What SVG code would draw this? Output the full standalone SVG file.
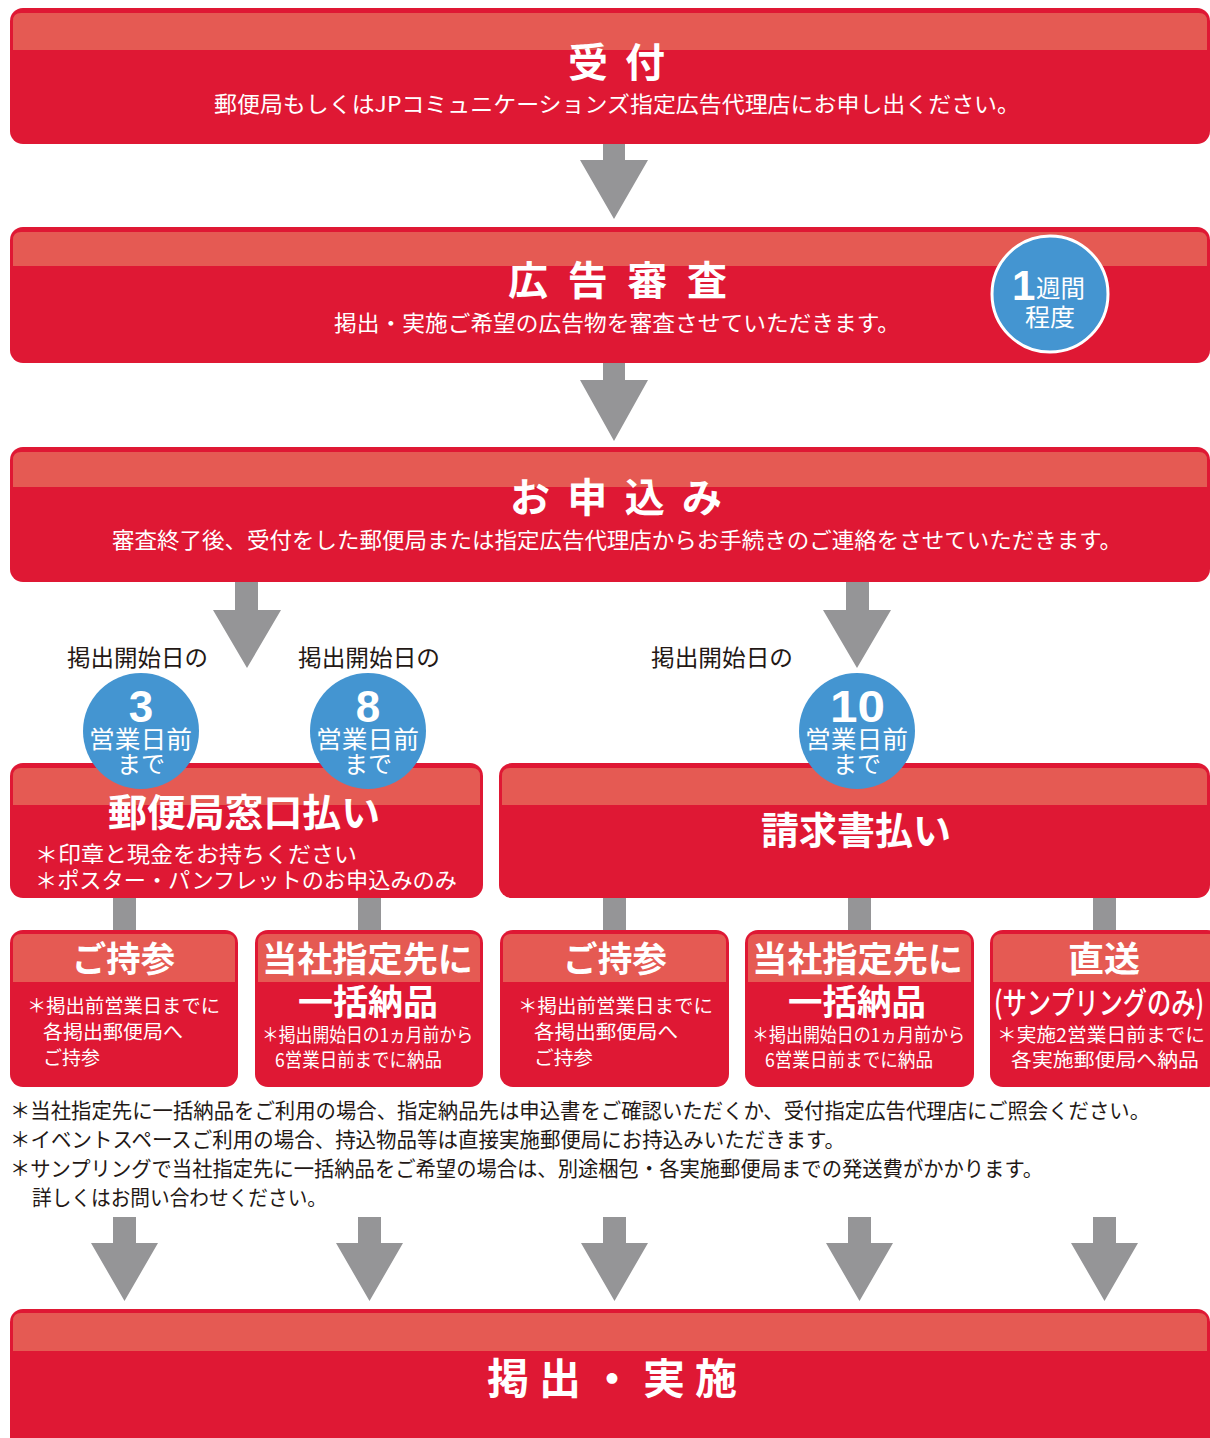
<svg xmlns="http://www.w3.org/2000/svg" width="1210" height="1438" viewBox="0 0 1210 1438">
<style>
text{font-family:"Noto Sans CJK JP","Noto Sans",sans-serif;}
.box{fill:#DF1834;}
.band{fill:#E55A53;}
.arr{fill:#959597;}
.circ{fill:#4495D1;}
.ttl{font-weight:700;font-size:40px;fill:#fff;}
.sub{font-size:22px;fill:#fff;}
.hd{font-weight:700;font-size:35px;fill:#fff;}
.nt{font-size:19px;fill:#fff;}
.lbl{font-size:23px;fill:#231815;}
.num{font-family:"Liberation Sans",Arial,sans-serif;font-weight:700;font-size:44px;fill:#fff;}
.cs{font-size:24px;fill:#fff;}
.fn{font-size:21px;fill:#231815;}
</style>
<rect width="1210" height="1438" fill="#FFFFFF"/>

<g id="connectors">
  <path class="arr" d="M603,143 H625 V160 H648 L614,219 L580,160 H603 Z"/>
  <path class="arr" d="M603,362 H625 V380 H648 L614,441 L580,380 H603 Z"/>
  <path class="arr" d="M235,581 H258 V610 H281 L247,668 L213,610 H235 Z"/>
  <path class="arr" d="M846,581 H869 V610 H891 L857,668 L823,610 H846 Z"/>
  <rect class="arr" x="113" y="897" width="23" height="34"/>
  <rect class="arr" x="358" y="897" width="23" height="34"/>
  <rect class="arr" x="603" y="897" width="23" height="34"/>
  <rect class="arr" x="848" y="897" width="23" height="34"/>
  <rect class="arr" x="1093" y="897" width="23" height="34"/>
  <path class="arr" d="M113,1217 H136 V1243 H158 L124.5,1301 L91,1243 H113 Z"/>
  <path class="arr" d="M358,1217 H381 V1243 H403 L369.5,1301 L336,1243 H358 Z"/>
  <path class="arr" d="M603,1217 H626 V1243 H648 L614.5,1301 L581,1243 H603 Z"/>
  <path class="arr" d="M848,1217 H871 V1243 H893 L859.5,1301 L826,1243 H848 Z"/>
  <path class="arr" d="M1093,1217 H1116 V1243 H1138 L1104.5,1301 L1071,1243 H1093 Z"/>
</g>

<g id="node-uketsuke">
  <rect class="box" x="10" y="8" width="1200" height="136" rx="13"/>
  <path class="band" d="M13,21 Q13,13 21,13 H1199 Q1207,13 1207,21 V50 H13 Z"/>
  <text class="ttl" x="568" y="77" textLength="97" lengthAdjust="spacing">受付</text>
  <text class="sub" x="214" y="112" textLength="806" lengthAdjust="spacingAndGlyphs">郵便局もしくはJPコミュニケーションズ指定広告代理店にお申し出ください。</text>
</g>

<g id="node-shinsa">
  <rect class="box" x="10" y="227" width="1200" height="136" rx="13"/>
  <path class="band" d="M13,240 Q13,232 21,232 H1199 Q1207,232 1207,240 V266 H13 Z"/>
  <text class="ttl" x="508" y="295" textLength="219" lengthAdjust="spacing">広告審査</text>
  <text class="sub" x="334" y="331" textLength="566" lengthAdjust="spacingAndGlyphs">掲出・実施ご希望の広告物を審査させていただきます。</text>
  <g id="badge-1week">
    <circle class="circ" cx="1050" cy="294" r="58" stroke="#FFFFFF" stroke-width="3"/>
    <text class="num" x="1012" y="300" style="font-size:42px;">1</text>
    <text class="cs" x="1036" y="297" textLength="49" lengthAdjust="spacingAndGlyphs">週間</text>
    <text class="cs" x="1025" y="326" textLength="50" lengthAdjust="spacingAndGlyphs">程度</text>
  </g>
</g>

<g id="node-moushikomi">
  <rect class="box" x="10" y="447" width="1200" height="135" rx="13"/>
  <path class="band" d="M13,460 Q13,452 21,452 H1199 Q1207,452 1207,460 V487 H13 Z"/>
  <text class="ttl" x="510" y="512" textLength="212" lengthAdjust="spacing">お申込み</text>
  <text class="sub" x="112" y="548" textLength="1010" lengthAdjust="spacingAndGlyphs">審査終了後、受付をした郵便局または指定広告代理店からお手続きのご連絡をさせていただきます。</text>
</g>

<g id="node-madoguchi">
  <rect class="box" x="10" y="763" width="473" height="135" rx="13"/>
  <path class="band" d="M13,776 Q13,768 21,768 H472 Q480,768 480,776 V805 H13 Z"/>
  <text x="108" y="826" textLength="272" lengthAdjust="spacingAndGlyphs" style="font-weight:700;font-size:38px;fill:#fff;">郵便局窓口払い</text>
  <text x="35" y="862" textLength="322" lengthAdjust="spacingAndGlyphs" style="font-size:22px;fill:#fff;">＊印章と現金をお持ちください</text>
  <text x="35" y="888" textLength="422" lengthAdjust="spacingAndGlyphs" style="font-size:22px;fill:#fff;">＊ポスター・パンフレットのお申込みのみ</text>
</g>

<g id="node-seikyusho">
  <rect class="box" x="499" y="763" width="711" height="135" rx="13"/>
  <path class="band" d="M502,776 Q502,768 510,768 H1199 Q1207,768 1207,776 V805 H502 Z"/>
  <text x="761" y="844" textLength="190" lengthAdjust="spacingAndGlyphs" style="font-weight:700;font-size:38px;fill:#fff;">請求書払い</text>
</g>

<g id="badge-3">
  <text class="lbl" x="67" y="666" textLength="141" lengthAdjust="spacingAndGlyphs">掲出開始日の</text>
  <circle class="circ" cx="141" cy="731" r="58"/>
  <text class="num" x="141" y="722" text-anchor="middle">3</text>
  <text class="cs" x="89" y="748" textLength="103" lengthAdjust="spacingAndGlyphs">営業日前</text>
  <text class="cs" x="141" y="773" text-anchor="middle">まで</text>
</g>
<g id="badge-8">
  <text class="lbl" x="298" y="666" textLength="142" lengthAdjust="spacingAndGlyphs">掲出開始日の</text>
  <circle class="circ" cx="368" cy="731" r="58"/>
  <text class="num" x="368" y="722" text-anchor="middle">8</text>
  <text class="cs" x="316" y="748" textLength="103" lengthAdjust="spacingAndGlyphs">営業日前</text>
  <text class="cs" x="368" y="773" text-anchor="middle">まで</text>
</g>
<g id="badge-10">
  <text class="lbl" x="651" y="666" textLength="142" lengthAdjust="spacingAndGlyphs">掲出開始日の</text>
  <circle class="circ" cx="857" cy="731" r="58"/>
  <text class="num" x="830" y="722" textLength="55" lengthAdjust="spacingAndGlyphs">10</text>
  <text class="cs" x="805" y="748" textLength="103" lengthAdjust="spacingAndGlyphs">営業日前</text>
  <text class="cs" x="857" y="773" text-anchor="middle">まで</text>
</g>

<g id="node-jisan-1">
  <rect class="box" x="10" y="930" width="228" height="157" rx="13"/>
  <path class="band" d="M13,942 Q13,934 21,934 H227 Q235,934 235,942 V982 H13 Z"/>
  <text class="hd" x="72" y="972" textLength="103" lengthAdjust="spacingAndGlyphs">ご持参</text>
  <text class="nt" x="27" y="1013" textLength="193" lengthAdjust="spacingAndGlyphs">＊掲出前営業日までに</text>
  <text class="nt" x="43" y="1039" textLength="140" lengthAdjust="spacingAndGlyphs">各掲出郵便局へ</text>
  <text class="nt" x="43" y="1065" textLength="57" lengthAdjust="spacingAndGlyphs">ご持参</text>
</g>

<g id="node-ikkatsu-1">
  <rect class="box" x="255" y="930" width="228" height="157" rx="13"/>
  <path class="band" d="M258,942 Q258,934 266,934 H472 Q480,934 480,942 V982 H258 Z"/>
  <text class="hd" x="262" y="972" textLength="211" lengthAdjust="spacingAndGlyphs">当社指定先に</text>
  <text class="hd" x="298" y="1015" textLength="140" lengthAdjust="spacingAndGlyphs">一括納品</text>
  <text class="nt" x="262" y="1042" textLength="211" lengthAdjust="spacingAndGlyphs">＊掲出開始日の1ヵ月前から</text>
  <text class="nt" x="275" y="1067" textLength="167" lengthAdjust="spacingAndGlyphs">6営業日前までに納品</text>
</g>

<g id="node-jisan-2">
  <rect class="box" x="500" y="930" width="229" height="157" rx="13"/>
  <path class="band" d="M503,942 Q503,934 511,934 H718 Q726,934 726,942 V982 H503 Z"/>
  <text class="hd" x="563" y="972" textLength="104" lengthAdjust="spacingAndGlyphs">ご持参</text>
  <text class="nt" x="518" y="1013" textLength="195" lengthAdjust="spacingAndGlyphs">＊掲出前営業日までに</text>
  <text class="nt" x="534" y="1039" textLength="144" lengthAdjust="spacingAndGlyphs">各掲出郵便局へ</text>
  <text class="nt" x="534" y="1065" textLength="59" lengthAdjust="spacingAndGlyphs">ご持参</text>
</g>

<g id="node-ikkatsu-2">
  <rect class="box" x="745" y="930" width="229" height="157" rx="13"/>
  <path class="band" d="M748,942 Q748,934 756,934 H963 Q971,934 971,942 V982 H748 Z"/>
  <text class="hd" x="752" y="972" textLength="211" lengthAdjust="spacingAndGlyphs">当社指定先に</text>
  <text class="hd" x="788" y="1015" textLength="138" lengthAdjust="spacingAndGlyphs">一括納品</text>
  <text class="nt" x="752" y="1042" textLength="213" lengthAdjust="spacingAndGlyphs">＊掲出開始日の1ヵ月前から</text>
  <text class="nt" x="765" y="1067" textLength="168" lengthAdjust="spacingAndGlyphs">6営業日前までに納品</text>
</g>

<g id="node-chokuso">
  <rect class="box" x="990" y="930" width="230" height="157" rx="13"/>
  <path class="band" d="M993,942 Q993,934 1001,934 H1220 V982 H993 Z"/>
  <text class="hd" x="1068" y="972" textLength="72" lengthAdjust="spacingAndGlyphs">直送</text>
  <text x="994" y="1014" textLength="210" lengthAdjust="spacingAndGlyphs" style="font-weight:500;font-size:31px;fill:#fff;">(サンプリングのみ)</text>
  <text class="nt" x="997" y="1042" textLength="208" lengthAdjust="spacingAndGlyphs">＊実施2営業日前までに</text>
  <text class="nt" x="1011" y="1067" textLength="188" lengthAdjust="spacingAndGlyphs">各実施郵便局へ納品</text>
</g>

<g id="footnotes">
  <text class="fn" x="10" y="1118" textLength="1140" lengthAdjust="spacingAndGlyphs">＊当社指定先に一括納品をご利用の場合、指定納品先は申込書をご確認いただくか、受付指定広告代理店にご照会ください。</text>
  <text class="fn" x="10" y="1147" textLength="835" lengthAdjust="spacingAndGlyphs">＊イベントスペースご利用の場合、持込物品等は直接実施郵便局にお持込みいただきます。</text>
  <text class="fn" x="10" y="1176" textLength="1033" lengthAdjust="spacingAndGlyphs">＊サンプリングで当社指定先に一括納品をご希望の場合は、別途梱包・各実施郵便局までの発送費がかかります。</text>
  <text class="fn" x="32" y="1205" textLength="295" lengthAdjust="spacingAndGlyphs">詳しくはお問い合わせください。</text>
</g>

<g id="node-keishutsu">
  <rect class="box" x="10" y="1309" width="1200" height="160" rx="13"/>
  <path class="band" d="M13,1321 Q13,1313 21,1313 H1199 Q1207,1313 1207,1321 V1351 H13 Z"/>
  <text class="ttl" x="487" y="1394" textLength="250" lengthAdjust="spacing" style="font-size:42px;">掲出・実施</text>
</g>
</svg>
